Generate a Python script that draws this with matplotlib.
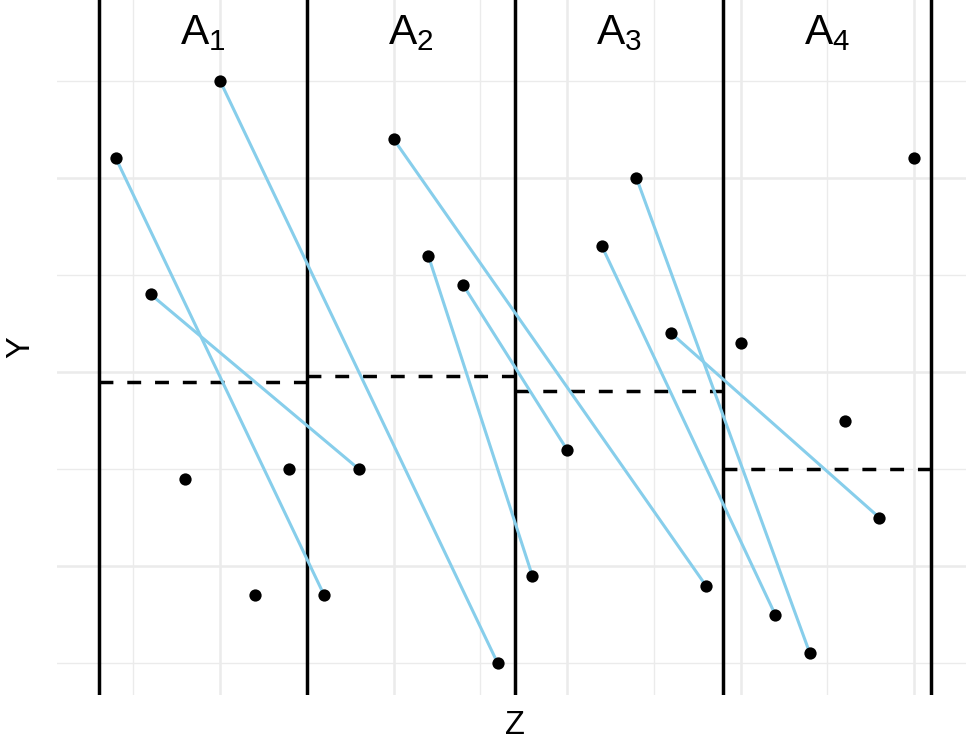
import matplotlib
matplotlib.use('Agg')
import matplotlib.pyplot as plt

# ---- data ----
x_vals = list(range(1, 25))
y_vals = [2.2, 0.8, -1.1, 3.0, -2.3, -1.0,
          -2.3, -1.0, 2.4, 1.2, 0.9, -3.0,
          -2.1, -0.8, 1.3, 2.0, 0.4, -2.2,
          0.3, -2.5, -2.9, -0.5, -1.5, 2.2]
panel_labels = ['$A_1$', '$A_2$', '$A_3$', '$A_4$']
panel_edges = [0.5, 6.5, 12.5, 18.5, 24.5]
panel_levels = [-0.10, -0.04, -0.20, -1.00]
seg_from = [1, 2, 4, 9, 10, 11, 15, 16, 17]
seg_to = [7, 8, 12, 18, 13, 14, 20, 21, 23]
x_major = [4, 9, 14, 19, 24]
x_minor = [1.5, 6.5, 11.5, 16.5, 21.5]
y_major = [-2, 0, 2]
y_minor = [-3, -1, 1, 3]

plt.rcParams['font.family'] = ['Liberation Sans', 'DejaVu Sans']
plt.rcParams['mathtext.default'] = 'regular'

W, H = 966, 740
fig = plt.figure(figsize=(W / 100, H / 100), dpi=100)
ax = fig.add_axes([57 / W, 45 / H, 916 / W, 695 / H])
ax.set_xlim(-0.70, 25.70)
ax.set_ylim(-3.328, 3.833)

# grid
for v in x_minor:
    ax.axvline(v, color='#EBEBEB', lw=1.0, zorder=0)
for v in x_major:
    ax.axvline(v, color='#EBEBEB', lw=1.8, zorder=0)
for v in y_minor:
    ax.axhline(v, color='#EBEBEB', lw=1.0, zorder=0)
for v in y_major:
    ax.axhline(v, color='#EBEBEB', lw=1.8, zorder=0)

# panel boundaries
for e in panel_edges:
    ax.axvline(e, color='black', lw=2.5, zorder=2)

# panel level dashed lines
for i, lvl in enumerate(panel_levels):
    ax.plot([panel_edges[i], panel_edges[i + 1]], [lvl, lvl], color='black',
            lw=2.5, dashes=(4, 4), zorder=2, solid_capstyle='butt',
            dash_capstyle='butt')

# connecting segments
for a, b in zip(seg_from, seg_to):
    ax.plot([x_vals[a - 1], x_vals[b - 1]], [y_vals[a - 1], y_vals[b - 1]],
            color='#87CEEB', lw=2.2, zorder=3, solid_capstyle='butt')

# points
ax.scatter(x_vals, y_vals, s=78, color='black', zorder=4, linewidths=0)

# panel labels
for i, lab in enumerate(panel_labels):
    cx = (panel_edges[i] + panel_edges[i + 1]) / 2
    ax.text(cx, 3.38, lab, ha='center', va='baseline', fontsize=30.5)

ax.set_xticks([])
ax.set_yticks([])
for s in ax.spines.values():
    s.set_visible(False)

fig.text(20.5 / W, (H - 347.5) / H, 'Y', rotation=90, ha='center', va='center',
         fontsize=23.5)
fig.text(515 / W, (H - 734.5) / H, 'Z', ha='center', va='baseline', fontsize=23.5)

fig.savefig('out.png', dpi=100)
